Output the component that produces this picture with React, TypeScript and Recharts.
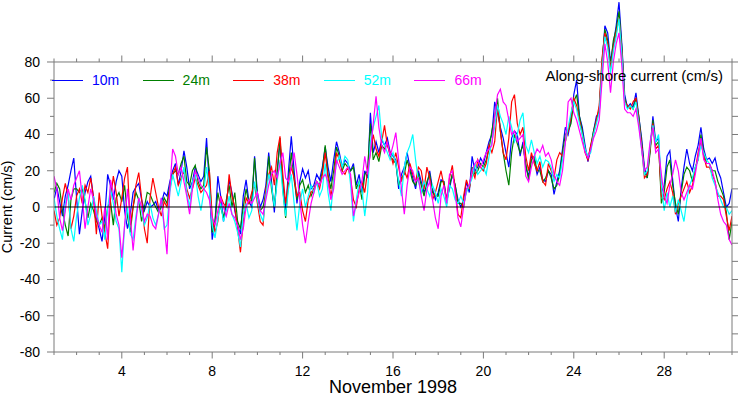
import React from 'react';
import { LineChart, Line, XAxis, YAxis, ReferenceLine } from 'recharts';

// 3-hourly samples, Nov 1 00:00 .. Dec 1 00:00 (day-of-month axis)
const days = Array.from({ length: 241 }, (_, i) => 1 + i / 8);

// 10m
const s10 = [
  4, 11, 3, -5, 6, 12, 20, 27,
  5, -15, -2, 8, 14, 17, 5, -6,
  -12, -19, -5, 18, 12, 4, 14, 20,
  17, -2, -12, -4, 8, 11, 13, 4,
  -2, 3, 0, 1, 3, -2, 2, 8,
  6, 14, 20, 24, 12, 20, 31, 22,
  10, 14, 22, 18, 14, 17, 38, 12,
  -18, -8, 17, 6, -8, 2, 15, 8,
  -2, -10, -15, 6, 15, 3, 0, 28,
  8, 0, 4, 12, 30, 14, -3, 20,
  36, 12, -2, 20, 39, 20, 2, 14,
  21, 16, 20, 10, 12, 18, 15, 22,
  33, 22, 14, 26, 36, 30, 22, 26,
  24, 20, 24, 12, 18, 8, 20, 16,
  52, 30, 36, 30, 37, 34, 38, 30,
  28, 26, 10, 18, 22, 30, 22, 16,
  10, 20, 14, 8, 12, 20, 10, 4,
  8, 15, 14, 4, 10, 18, 12, 4,
  0, 4, 14, 8, 28, 20, 22, 27,
  24, 30, 36, 40, 58, 52, 44, 38,
  30, 22, 38, 42, 40, 28, 36, 22,
  17, 28, 26, 18, 22, 15, 14, 20,
  18, 7, 14, 20, 32, 44, 40, 48,
  62, 70, 50, 44, 34, 25, 32, 42,
  50, 52, 78, 100, 96, 80, 90, 100,
  113, 90, 62, 55, 57, 55, 63, 50,
  38, 22, 16, 32, 50, 36, 38, 8,
  12, 28, 31, 15, 0, -8, 10, 22,
  32, 24, 20, 28, 34, 44, 32, 26,
  27, 24, 27, 20, 16, 8, 0, 2,
  10,
];

// 24m
const s24 = [
  8, 13, 10, -2, -10, -16, 4, 10,
  10, 8, 10, 3, -6, 2, -2, -8,
  -10, -6, -12, 0, 3, -10, 5, 8,
  3, 12, -5, -14, 0, 8, 4, -8,
  0, 8, 7, 3, 0, -3, 0, 5,
  2, 12, 18, 20, 18, 24, 28, 14,
  12, 20, 23, 14, 10, 12, 33, 20,
  -14, -8, 8, 0, -6, 4, 12, 0,
  8, -8, -12, 0, 10, 2, 4, 27,
  5, -2, 0, 8, 28, 10, 0, 18,
  38, 10, -6, 14, 30, 15, 4, 12,
  15, 8, 12, 6, 10, 14, 12, 20,
  34, 18, 10, 20, 33, 28, 20, 24,
  22, 20, 22, 10, 14, 4, 18, 20,
  46, 26, 30, 25, 34, 32, 35, 28,
  26, 24, 12, 16, 18, 26, 20, 14,
  12, 18, 12, 6, 14, 18, 8, 6,
  6, 14, 14, 2, 12, 18, 12, 2,
  2, 0, 10, 10, 22, 18, 20, 24,
  22, 26, 32, 42, 50, 60, 42, 30,
  20, 12, 30, 40, 35, 30, 34, 24,
  15, 26, 28, 20, 20, 14, 16, 20,
  16, 10, 12, 18, 30, 40, 42, 46,
  58, 62, 50, 42, 32, 26, 34, 42,
  48, 54, 80, 98, 92, 78, 92, 98,
  108, 88, 60, 55, 56, 54, 60, 50,
  36, 20, 16, 30, 48, 34, 36, 2,
  8, 22, 26, 12, 2, -4, 8, 18,
  22, 20, 14, 22, 26, 40, 30, 24,
  24, 20, 20, 14, 10, 6, -3, -18,
  -8,
];

// 38m
const s38 = [
  -2, -10, -6, 5, 13, 6, -12, -5,
  6, 10, 2, 12, 8, 16, 5, -15,
  8, -5, -14, -23, 4, 17, 8, -5,
  5, 16, 22, -10, 0, 12, 19, 5,
  -12, -20, 5, 16, 8, 0, -5, 3,
  0, 10, 18, 22, 12, 16, 20, 10,
  5, 10, 16, 12, 8, 10, 12, 20,
  -5, -14, -8, 6, 2, 0, 18, 6,
  0, -12, -25, -8, 5, 2, 8, 12,
  2, -8, -10, 10, 18, 22, 12, 30,
  39, 18, 2, 14, 22, 16, 6, 8,
  -2, -8, 4, 8, 10, 14, 10, 18,
  30, 16, 6, 14, 30, 26, 20, 18,
  22, 16, 4, 0, 10, 14, 8, 20,
  30, 40, 32, 28, 36, 45, 34, 30,
  24, 30, 22, 14, 20, 16, 24, 18,
  14, 22, 20, 10, 22, 16, 4, 8,
  14, 20, 12, 4, 16, 23, 10, -4,
  -6, 6, 15, 10, 20, 16, 26, 22,
  20, 24, 34, 30, 36, 56, 42, 30,
  26, 38, 58, 62, 46, 40, 44, 28,
  20, 30, 24, 20, 25, 14, 12, 24,
  20, 16, 26, 30, 28, 36, 42, 50,
  60, 56, 48, 40, 30, 26, 34, 40,
  48, 56, 82, 96, 90, 76, 88, 96,
  104, 86, 58, 56, 54, 58, 60, 48,
  34, 16, 18, 32, 46, 32, 34, 6,
  4, 10, 14, 8, -4, 2, 6, 10,
  14, 8, 12, 20, 30, 36, 28, 22,
  22, 18, 14, 6, 6, 4, -5, -13,
  -5,
];

// 52m
const s52 = [
  5, -5, -12, -18, 2, 8, -12, -19,
  -5, 5, 12, 4, -10, -4, 6, -2,
  -10, -8, -18, 0, 10, 2, -8, -12,
  -36, -10, 0, -15, -18, -5, 5, -2,
  -10, -6, 2, -6, -10, -4, 5, -12,
  -10, 8, 18, 12, 6, 14, 22, 8,
  0, 14, 18, 6, -2, 8, 22, 10,
  -10, -17, -6, 2, -8, -2, 6, -4,
  -8, -14, -22, -4, 2, -6, -2, 14,
  4, -4, -8, 6, 18, 12, 0, 14,
  26, 8, -5, 10, 18, 2, -13, 2,
  10, 0, 6, 12, 8, 14, 6, 10,
  24, 8, -2, 14, 24, 28, 22, 28,
  26, 12, -8, 4, 14, 10, -5, 8,
  36, 44, 50, 56, 38, 34, 30, 26,
  30, 24, 14, 6, 22, 30, 34, 40,
  26, 14, 8, 14, 10, 6, 12, 8,
  2, 10, 6, 0, 12, 10, 4, 2,
  6, 2, 8, 12, 16, 24, 18, 20,
  22, 18, 28, 36, 44, 56, 50, 46,
  40, 50, 44, 36, 40, 48, 52, 34,
  30, 37, 30, 24, 28, 22, 26, 25,
  22, 14, 18, 16, 26, 36, 44, 52,
  58, 54, 46, 40, 32, 28, 30, 40,
  46, 52, 76, 94, 88, 74, 86, 94,
  104, 84, 58, 54, 56, 54, 58, 46,
  32, 18, 20, 34, 45, 36, 40, 12,
  -2, 8, 0, 6, -3, 4, -2, -8,
  4, 12, 16, 22, 26, 34, 30, 26,
  24, 16, 12, 8, 4, 0, 0, -4,
  -2,
];

// 66m
const s66 = [
  17, 10, -6, -13, -2, 10, 4, 12,
  16, 20, 5, -12, 0, 10, 4, -5,
  -10, -14, 0, -18, 15, 8, -4, -10,
  -28, -10, 10, -5, -24, -8, 5, 0,
  -8, -4, -5, -10, -12, -4, 5, -10,
  -26, 10, 32, 28, 18, 22, 14, 6,
  -4, 10, 20, 16, 12, 10, 8, 4,
  -6, -10, -2, 5, 0, -5, 2, -4,
  -6, -10, -18, -12, 0, 4, 2, 5,
  8, -2, -4, 4, 12, 18, 20, 16,
  24, 30, 16, 14, 22, 30, 18, 4,
  -10, -20, -8, 2, 8, 14, 12, 16,
  18, 14, 4, 10, 26, 22, 18, 20,
  22, 18, -5, 2, 8, 14, 28, 18,
  30, 46, 61, 44, 34, 30, 36, 28,
  34, 41, 26, 10, -4, 12, 22, 20,
  14, 16, 6, -2, 10, 14, 4, -6,
  -12, 6, 12, 2, 18, 20, 8, -6,
  -11, 0, 10, 12, 20, 24, 26, 22,
  26, 30, 32, 34, 50, 62, 65, 58,
  56, 48, 40, 42, 36, 38, 40, 17,
  14, 22, 28, 32, 30, 34, 28, 30,
  26, 18, 14, 12, 20, 35, 58, 60,
  52, 48, 42, 36, 30, 27, 32, 38,
  42, 48, 70, 90, 80, 63, 80, 90,
  96, 78, 54, 52, 52, 50, 54, 44,
  32, 20, 22, 36, 44, 30, 32, 18,
  6, 2, 12, 18, 26, 20, 8, 4,
  8, 12, 10, 18, 28, 38, 26, 24,
  24, 20, 14, 4, -4, -8, -10, -18,
  -21,
];

const series = [
  { key: 'm10', name: '10m', color: '#0000ff', values: s10 },
  { key: 'm24', name: '24m', color: '#008000', values: s24 },
  { key: 'm38', name: '38m', color: '#ff0000', values: s38 },
  { key: 'm52', name: '52m', color: '#00ffff', values: s52 },
  { key: 'm66', name: '66m', color: '#ff00ff', values: s66 },
];

const xTicks = Array.from({ length: 31 }, (_, i) => i + 1);
const yTicks = [-80, -70, -60, -50, -40, -30, -20, -10, 0, 10, 20, 30, 40, 50, 60, 70, 80];

const data = days.map((day, i) => {
  const row: Record<string, number> = { day };
  series.forEach((s) => (row[s.key] = s.values[i]));
  return row;
});

const FONT = '"Liberation Sans", Arial, Helvetica, sans-serif';
const FRAME = '#7a7a7a';
const PX_PER_UNIT = 290 / 160;

function XTick({ x, y, payload }: any) {
  const v = payload.value;
  const major = v % 4 === 0 && v > 1 && v < 31;
  return (
    <g>
      <line x1={x} y1={y} x2={x} y2={y + (major ? 6.5 : 3)} stroke={FRAME} />
      {major && (
        <text x={x} y={y + 23.5} textAnchor="middle" fontSize={14} fill="#000">
          {v}
        </text>
      )}
    </g>
  );
}

function YTickLeft({ x, y, payload }: any) {
  const v = payload.value;
  const major = v % 20 === 0;
  return (
    <g>
      <line x1={x - (major ? 7 : 4)} y1={y} x2={x} y2={y} stroke={FRAME} />
      {major && (
        <text x={x - 14} y={y + 5} textAnchor="end" fontSize={14} fill="#000">
          {v}
        </text>
      )}
    </g>
  );
}

function YTickRight({ x, y }: any) {
  return <line x1={x} y1={y} x2={x + 6} y2={y} stroke={FRAME} />;
}

export default function App() {
  const topTickLen = (d: number) => (d % 4 === 0 ? 6.5 : 3.5) / PX_PER_UNIT;
  return (
    <div style={{ position: 'absolute', left: 0, top: 0, width: 739, height: 397, fontFamily: FONT, background: '#fff' }}>
      <LineChart width={739} height={397} data={data} margin={{ top: 0, right: 0, left: 0, bottom: 0 }}>
        <XAxis
          dataKey="day"
          type="number"
          domain={[1, 31]}
          allowDataOverflow
          ticks={xTicks}
          interval={0}
          height={45}
          tickSize={0}
          tickMargin={0}
          tick={<XTick />}
          axisLine={{ stroke: FRAME }}
          label={{
            content: () => (
              <text x={393} y={393} textAnchor="middle" fontSize={18} fill="#000">
                November 1998
              </text>
            ),
          }}
        />
        <YAxis
          type="number"
          domain={[-80, 114.2]}
          allowDataOverflow
          ticks={yTicks}
          interval={0}
          width={54}
          tickSize={0}
          tickMargin={0}
          tick={<YTickLeft />}
          axisLine={false}
          label={{
            content: () => (
              <text x={12} y={207} transform="rotate(-90 12 207)" textAnchor="middle" fontSize={14.5} fill="#000">
                Current (cm/s)
              </text>
            ),
          }}
        />
        <YAxis
          yAxisId="r"
          orientation="right"
          type="number"
          domain={[-80, 114.2]}
          allowDataOverflow
          ticks={yTicks}
          interval={0}
          width={7}
          tickSize={0}
          tickMargin={0}
          tick={<YTickRight />}
          axisLine={false}
        />
        {series.map((s) => (
          <Line
            key={s.key}
            type="linear"
            dataKey={s.key}
            stroke={s.color}
            strokeWidth={1.2}
            dot={false}
            activeDot={false}
            isAnimationActive={false}
          />
        ))}
        <ReferenceLine y={0} stroke="#000" strokeWidth={1} />
        <ReferenceLine segment={[{ x: 1, y: -80 }, { x: 1, y: 80 }]} stroke={FRAME} />
        <ReferenceLine segment={[{ x: 1, y: 80 }, { x: 31, y: 80 }]} stroke={FRAME} />
        <ReferenceLine segment={[{ x: 31, y: -80 }, { x: 31, y: 80 }]} stroke={FRAME} />
        {xTicks.map((d) => (
          <ReferenceLine key={'t' + d} segment={[{ x: d, y: 80 }, { x: d, y: 80 + topTickLen(d) }]} stroke={FRAME} />
        ))}
      </LineChart>
      {series.map((s, k) => (
        <div
          key={s.key}
          style={{ position: 'absolute', left: 52 + k * 90.6, top: 72, height: 16, display: 'flex', alignItems: 'center' }}
        >
          <div style={{ width: 31, height: 0, borderTop: `1px solid ${s.color}` }} />
          <span style={{ marginLeft: 9, color: s.color, fontSize: 14, lineHeight: '16px' }}>{s.name}</span>
        </div>
      ))}
      <div style={{ position: 'absolute', right: 16, top: 67, fontSize: 15, lineHeight: '18px', color: '#000' }}>
        Along-shore current (cm/s)
      </div>
    </div>
  );
}
